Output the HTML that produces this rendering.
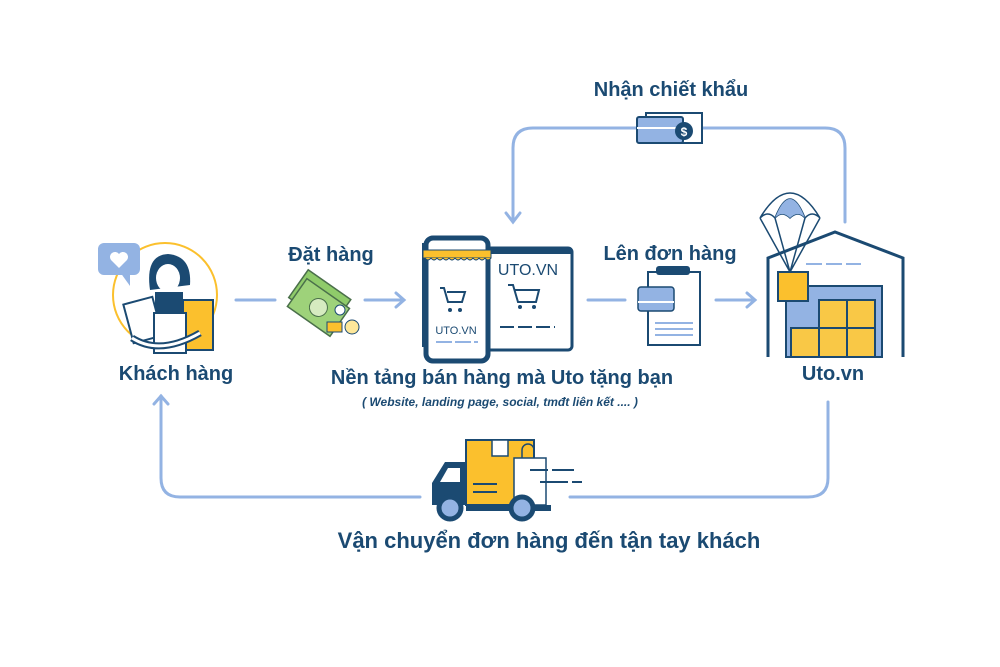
<!DOCTYPE html>
<html><head><meta charset="utf-8"><style>
body{margin:0;background:#fff}
svg{display:block}
text{font-family:"Liberation Sans","DejaVu Sans",sans-serif;fill:#1b4a72;font-weight:bold}
</style></head><body>
<svg width="1000" height="667" viewBox="0 0 1000 667" xmlns="http://www.w3.org/2000/svg">
<g fill="none" stroke="#93b3e3" stroke-width="3" stroke-linecap="round">
<path d="M513 220 V148 Q513 128 533 128 H825 Q845 128 845 148 V222"/>
<path d="M506 213 L513 222 L520 213"/>
<path d="M236 300 H275"/><path d="M365 300 H403"/><path d="M396 293 L404 300 L396 307"/>
<path d="M588 300 H625"/><path d="M716 300 H754"/><path d="M747 293 L755 300 L747 307"/>
<path d="M828 402 V478 Q828 497 808 497 H570"/>
<path d="M420 497 H180 Q161 497 161 478 V396"/><path d="M154 404 L161 396 L168 404"/>
</g>
<rect x="646" y="113" width="56" height="30" fill="#fff" stroke="#1b4a72" stroke-width="2"/>
<rect x="637" y="117" width="46" height="26" rx="2" fill="#93b3e3" stroke="#1b4a72" stroke-width="2"/>
<line x1="637" y1="128" x2="683" y2="128" stroke="#fff" stroke-width="2"/>
<circle cx="684" cy="131" r="9" fill="#1b4a72"/><text x="684" y="136" font-size="12" text-anchor="middle" style="fill:#fff">$</text>
<text x="671" y="96" font-size="20" text-anchor="middle">Nhận chiết khẩu</text>
<circle cx="165" cy="295" r="52" fill="none" stroke="#fbc02d" stroke-width="2"/>
<rect x="98" y="243" width="42" height="32" rx="6" fill="#93b3e3"/>
<path d="M120 272 L130 286 L130 272Z" fill="#93b3e3"/>
<path d="M119 268 l-8 -8 a5 5 0 0 1 8 -6 a5 5 0 0 1 8 6z" fill="#fff"/>
<path d="M150 290 Q145 255 168 254 Q192 256 190 285 Z" fill="#1b4a72"/>
<ellipse cx="168" cy="278" rx="12" ry="14" fill="#fff"/>
<rect x="155" y="292" width="28" height="20" fill="#1b4a72"/>
<rect x="183" y="300" width="30" height="50" fill="#fbc02d" stroke="#1b4a72" stroke-width="2"/>
<rect x="128" y="300" width="30" height="40" fill="#fff" stroke="#1b4a72" stroke-width="2" transform="rotate(-15 143 320)"/>
<rect x="154" y="313" width="32" height="40" fill="#fff" stroke="#1b4a72" stroke-width="2"/>
<path d="M132 338 Q160 356 200 333" fill="none" stroke="#1b4a72" stroke-width="7"/>
<path d="M132 338 Q160 356 200 333" fill="none" stroke="#fff" stroke-width="3"/>
<text x="176" y="380" font-size="20" text-anchor="middle">Khách hàng</text>
<text x="331" y="261" font-size="20" text-anchor="middle">Đặt hàng</text>
<g transform="rotate(35 320 300)">
<rect x="293" y="282" width="52" height="34" fill="#8fcb6a" stroke="#4a6f4a" stroke-width="1.5"/>
<rect x="297" y="290" width="52" height="34" fill="#9ed27a" stroke="#4a6f4a" stroke-width="1.5"/>
<circle cx="323" cy="307" r="9" fill="#d6ebc0" stroke="#4a6f4a"/>
</g>
<circle cx="340" cy="310" r="5" fill="#fff" stroke="#1b4a72"/>
<circle cx="352" cy="327" r="7" fill="#fde79a" stroke="#1b4a72"/>
<rect x="327" y="322" width="15" height="10" fill="#fbc02d" stroke="#1b4a72"/>
<rect x="484" y="248" width="88" height="102" rx="4" fill="#fff" stroke="#1b4a72" stroke-width="3"/>
<rect x="484" y="248" width="88" height="6" fill="#1b4a72"/>
<text x="528" y="275" font-size="16" text-anchor="middle" style="font-weight:normal">UTO.VN</text>
<path d="M508 285 h5 l5 17 h18 l3 -12 h-24" fill="none" stroke="#1b4a72" stroke-width="2"/>
<circle cx="520" cy="307" r="2" fill="#1b4a72"/><circle cx="534" cy="307" r="2" fill="#1b4a72"/>
<path d="M500 327 h55" stroke="#1b4a72" stroke-width="2" stroke-dasharray="14 4"/>
<rect x="422" y="243" width="10" height="104" fill="#1b4a72"/>
<rect x="426" y="238" width="62" height="123" rx="7" fill="#fff" stroke="#1b4a72" stroke-width="5"/>
<rect x="423" y="250" width="68" height="8" fill="#fbc02d" stroke="#1b4a72"/>
<path d="M425 258 q3 4 6 0 q3 4 6 0 q3 4 6 0 q3 4 6 0 q3 4 6 0 q3 4 6 0 q3 4 6 0 q3 4 6 0 q3 4 6 0 q3 4 6 0 q3 4 6 0" fill="#fbc02d" stroke="#1b4a72"/>
<path d="M440 288 h4 l4 14 h14 l3 -10 h-18" fill="none" stroke="#1b4a72" stroke-width="2"/>
<circle cx="450" cy="310" r="2" fill="#1b4a72"/><circle cx="460" cy="310" r="2" fill="#1b4a72"/>
<text x="456" y="334" font-size="11" text-anchor="middle" style="font-weight:normal">UTO.VN</text>
<path d="M436 342 h42" stroke="#93b3e3" stroke-width="2" stroke-dasharray="16 3"/>
<text x="502" y="384" font-size="20" text-anchor="middle">Nền tảng bán hàng mà Uto tặng bạn</text>
<text x="500" y="406" font-size="12" text-anchor="middle" font-style="italic">( Website, landing page, social, tmđt liên kết .... )</text>
<text x="670" y="260" font-size="20" text-anchor="middle">Lên đơn hàng</text>
<rect x="648" y="272" width="52" height="73" fill="#fff" stroke="#1b4a72" stroke-width="2"/>
<rect x="656" y="266" width="34" height="9" rx="3" fill="#1b4a72"/>
<rect x="638" y="287" width="36" height="24" rx="3" fill="#93b3e3" stroke="#1b4a72" stroke-width="1.5"/>
<line x1="638" y1="302" x2="674" y2="302" stroke="#fff" stroke-width="2"/>
<path d="M655 323 h38 M655 329 h38 M655 335 h38" stroke="#93b3e3" stroke-width="2"/>
<path d="M768 357 V258 L835 232 L903 258 V357" fill="#fff" stroke="#1b4a72" stroke-width="3"/>
<path d="M806 264 h55" stroke="#93b3e3" stroke-width="2" stroke-dasharray="16 4"/>
<rect x="786" y="286" width="96" height="71" fill="#93b3e3" stroke="#1b4a72" stroke-width="2"/>
<g fill="#f9c846" stroke="#1b4a72" stroke-width="2">
<rect x="791" y="328" width="28" height="29"/><rect x="819" y="328" width="28" height="29"/><rect x="847" y="328" width="28" height="29"/>
<rect x="819" y="300" width="28" height="28"/><rect x="847" y="300" width="28" height="28"/>
<rect x="778" y="272" width="30" height="29" fill="#fbc02d"/>
</g>
<path d="M760 218 Q790 168 820 218 M775 218 Q790 180 805 218 M760 218 Q768 210 775 218 Q782 210 790 218 Q798 210 805 218 Q812 210 820 218 M760 218 L790 272 M775 218 L790 272 M805 218 L790 272 M820 218 L790 272" fill="none" stroke="#1b4a72" stroke-width="1.5"/>
<path d="M775 218 Q790 180 805 218 Q798 210 790 218 Q782 210 775 218Z" fill="#93b3e3"/>
<text x="833" y="380" font-size="20" text-anchor="middle">Uto.vn</text>
<path d="M432 505 V483 L445 462 H468 V505Z" fill="#1b4a72"/>
<path d="M440 482 L448 468 H460 V482Z" fill="#fff"/>
<rect x="466" y="440" width="68" height="65" fill="#fbc02d" stroke="#1b4a72" stroke-width="2"/>
<rect x="492" y="440" width="16" height="16" fill="#fff" stroke="#1b4a72" stroke-width="1.5"/>
<path d="M473 484 h24 M473 492 h24" stroke="#1b4a72" stroke-width="2"/>
<rect x="514" y="458" width="32" height="47" fill="#fff" stroke="#1b4a72" stroke-width="1.5"/>
<path d="M522 458 v-8 a6 6 0 0 1 12 0 v8" fill="none" stroke="#1b4a72" stroke-width="1.5"/>
<path d="M530 470 h18 M552 470 h22 M540 482 h28 M572 482 h10" stroke="#1b4a72" stroke-width="2"/>
<rect x="466" y="505" width="85" height="6" fill="#1b4a72"/>
<circle cx="450" cy="508" r="11" fill="#93b3e3" stroke="#1b4a72" stroke-width="5"/>
<circle cx="522" cy="508" r="11" fill="#93b3e3" stroke="#1b4a72" stroke-width="5"/>
<text x="549" y="548" font-size="22" text-anchor="middle">Vận chuyển đơn hàng đến tận tay khách</text>
</svg>
</body></html>
